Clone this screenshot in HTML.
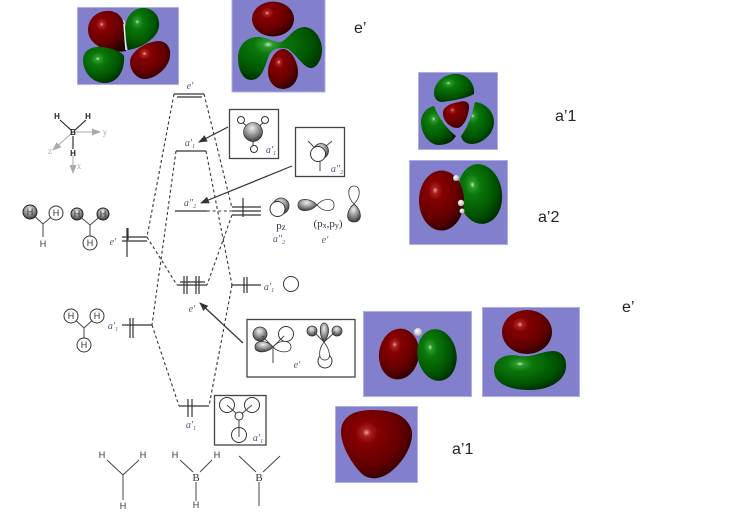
<!DOCTYPE html>
<html><head><meta charset="utf-8"><style>
html,body{margin:0;padding:0;background:#fff;width:750px;height:512px;overflow:hidden}
svg{display:block}
.p{fill:#8280cc;stroke:#aeaee4;stroke-width:1}
.lv{stroke:#333;stroke-width:1.2;fill:none}
.d{stroke:#333;stroke-width:1.1;fill:none;stroke-dasharray:3 2.6}
.b{fill:#fff;stroke:#444;stroke-width:1.3}
.o{fill:#fff;stroke:#333;stroke-width:1}
.ln{stroke:#444;stroke-width:1;fill:none}
.a{stroke:#333;stroke-width:1.2;fill:none}
.l{font:italic 10px "Liberation Serif",serif;fill:#4a5a7c;text-anchor:middle}
.big{font:16px "Liberation Sans",sans-serif;fill:#222}
.h{font:9px "Liberation Sans",sans-serif;fill:#333;text-anchor:middle}
.hb{font:bold 8px "Liberation Sans",sans-serif;fill:#222;text-anchor:middle}
.s{font:11px "Liberation Serif",serif;fill:#334;text-anchor:middle}
.g{font:9px "Liberation Serif",serif;fill:#aaa;text-anchor:middle}
</style></head><body>
<svg width="750" height="512" viewBox="0 0 750 512" xmlns="http://www.w3.org/2000/svg">
<defs>
<radialGradient id="r" cx=".36" cy=".33" r=".8"><stop offset="0" stop-color="#eea0a0"/><stop offset=".07" stop-color="#aa2222"/><stop offset=".2" stop-color="#860000"/><stop offset=".62" stop-color="#620000"/><stop offset="1" stop-color="#1c0000"/></radialGradient>
<radialGradient id="gr" cx=".36" cy=".33" r=".8"><stop offset="0" stop-color="#b8e8b8"/><stop offset=".07" stop-color="#2c9a2c"/><stop offset=".22" stop-color="#0a780a"/><stop offset=".64" stop-color="#005400"/><stop offset="1" stop-color="#001c00"/></radialGradient>
<radialGradient id="w" cx=".4" cy=".35" r=".7"><stop offset="0" stop-color="#fff"/><stop offset="1" stop-color="#aaa"/></radialGradient>
<radialGradient id="sh" cx=".45" cy=".3" r=".8"><stop offset="0" stop-color="#f0f0f0"/><stop offset=".6" stop-color="#777"/><stop offset="1" stop-color="#222"/></radialGradient>
<marker id="ar" markerWidth="9" markerHeight="7" refX="8" refY="3.5" orient="auto" markerUnits="userSpaceOnUse"><path d="M0 0L9 3.5L0 7Z" fill="#333"/></marker>
<marker id="ag" markerWidth="9" markerHeight="7" refX="8" refY="3.5" orient="auto" markerUnits="userSpaceOnUse"><path d="M0 0L9 3.5L0 7Z" fill="#aaa"/></marker>
</defs>

<!-- panels -->
<rect class="p" x="77.5" y="7.5" width="101" height="77"/>
<ellipse cx="123" cy="24" rx="2.5" ry="4" fill="url(#w)"/>
<path d="M88 30C88 18 98 10 110 11C120 12 124 20 125 30L126 51C110 54 88 46 88 30Z" fill="url(#r)"/>
<path d="M125 30C125 15 135 7 145 8C155 9 160 18 159 26C158 38 142 48 128 50C126 42 125 36 125 30Z" fill="url(#gr)"/>
<path d="M83 60C83 50 92 46 102 47C112 48 122 52 124 56C125 70 118 83 105 83C92 83 83 72 83 60Z" fill="url(#gr)"/>
<path d="M130 62C130 52 145 42 158 41C167 41 171 48 170 56C169 68 155 79 145 79C136 79 130 70 130 62Z" fill="url(#r)"/>
<path d="M124 24L126 50" stroke="#eee" stroke-width="1.5"/>

<rect class="p" x="232" y="-1" width="93" height="93"/>
<ellipse cx="273" cy="19" rx="21" ry="17.5" fill="url(#r)"/>
<path d="M238 58C238 44 248 36 260 37C268 38 274 42 280 42C286 42 292 28 304 27C314 27 322 38 322 50C322 60 316 69 310 68C302 66 296 54 288 49C278 46 270 50 268 58C265 66 262 80 251 80C243 80 238 70 238 58Z" fill="url(#gr)"/>
<path d="M283 49C291 49 298 62 298 72C298 82 291 89 283 89C275 89 268 82 268 72C268 62 275 49 283 49Z" fill="url(#r)"/>

<rect class="p" x="418.5" y="72.5" width="79" height="77"/>
<path d="M434 93C434 82 445 73 458 74C468 75 475 84 474 94C465 99 450 101 442 102C437 102 434 98 434 93Z" fill="url(#gr)"/>
<path d="M443 112C444 106 452 103 459 102C465 100 470 102 469 108C468 118 463 128 457 128C450 128 442 120 443 112Z" fill="url(#r)"/>
<path d="M421 122C421 113 428 107 434 106C438 116 444 126 456 136C452 143 445 145 438 145C428 144 421 133 421 122Z" fill="url(#gr)"/>
<path d="M461 136C468 127 472 115 475 102C486 103 494 112 494 122C494 134 482 144 472 144C466 144 462 141 461 136Z" fill="url(#gr)"/>

<rect class="p" x="409.5" y="160.5" width="98" height="84"/>
<ellipse cx="480" cy="194" rx="22" ry="30" fill="url(#gr)" transform="rotate(-8 480 194)"/>
<ellipse cx="441.5" cy="200.5" rx="22.5" ry="30" fill="url(#r)"/>
<circle cx="456" cy="178" r="3" fill="url(#w)"/><circle cx="461" cy="203" r="3.2" fill="url(#w)"/><circle cx="462" cy="211" r="2.5" fill="url(#w)"/>

<rect class="p" x="363.5" y="311.500" width="108" height="85"/>
<ellipse cx="399" cy="354" rx="20" ry="25.500" fill="url(#r)" transform="rotate(8 399 354)"/>
<ellipse cx="437" cy="355" rx="19.500" ry="26" fill="url(#gr)" transform="rotate(-10 437 355)"/>
<circle cx="418" cy="332" r="4" fill="url(#w)"/>

<rect class="p" x="482.500" y="307.500" width="97" height="89"/>
<ellipse cx="527" cy="332" rx="25" ry="22" fill="url(#r)"/>
<path d="M494 370C494 358 506 353 520 356C532 358 542 351 553 351C562 351 567 358 566 368C564 382 548 390 530 390C510 390 494 384 494 370Z" fill="url(#gr)"/>

<rect class="p" x="335.500" y="406.500" width="82" height="76"/>
<path d="M341 432C341 418 352 410 372 410C390 410 404 414 410 426C416 436 408 456 395 468C385 478 372 482 362 474C352 464 341 446 341 432Z" fill="url(#r)"/>

<!-- big labels -->
<text class="big" x="354" y="33">e’</text>
<text class="big" x="555" y="121">a’1</text>
<text class="big" x="538" y="222">a’2</text>
<text class="big" x="622" y="312">e’</text>
<text class="big" x="452" y="454">a’1</text>

<!-- dashed connectors -->
<path class="d" d="M174 94L147 237"/>
<path class="d" d="M147 237L177 285"/>
<path class="d" d="M176 151L152 325"/>
<path class="d" d="M152 325L179 406"/>
<path class="d" d="M204 94L232 208"/>
<path class="d" d="M206 151L232 285"/>
<path class="d" d="M232 215L207 285"/>
<path class="d" d="M232 285L209 406"/>
<path class="d" d="M207 211L232 211"/>

<!-- levels -->
<path class="lv" d="M174 94H204M177 97H202"/>
<path class="lv" d="M176 151H206"/>
<path class="lv" d="M175 211H207"/>
<path class="lv" d="M177 285H207M180 282H205"/>
<path class="lv" d="M184 276V294M187 276V294M196 276V294M199 276V294"/>
<path class="lv" d="M232 207H261M232 211H261M232 215H261"/>
<path class="lv" d="M243 198V217"/>
<path class="lv" d="M232 285H261M244 277V293M247 277V293"/>
<path class="lv" d="M122 237H147M122 241H147M127 228V257M128 228V240"/>
<path class="lv" d="M122 325H152M130 318V338M133 318V338"/>
<path class="lv" d="M179 406H209M188 399V417M192 399V417"/>

<!-- level labels -->
<text class="l" x="190" y="89">e′</text>
<text class="l" x="190" y="146">a′<tspan font-size="6" dy="2">1</tspan></text>
<text class="l" x="190" y="206">a″<tspan font-size="6" dy="2">2</tspan></text>
<text class="l" x="192" y="312">e′</text>
<text class="l" x="191" y="428">a′<tspan font-size="6" dy="2">1</tspan></text>
<text class="l" x="269" y="290">a′<tspan font-size="6" dy="2">1</tspan></text>
<text class="l" x="113" y="329">a′<tspan font-size="6" dy="2">1</tspan></text>
<text class="l" x="113" y="245">e′</text>

<!-- arrows -->
<path class="a" d="M228 127L199 142" marker-end="url(#ar)"/>
<path class="a" d="M292 166L201 203" marker-end="url(#ar)"/>
<path class="a" d="M243 343L200 303" marker-end="url(#ar)"/>

<!-- box A -->
<rect class="b" x="229.500" y="109.500" width="49" height="49"/>
<path class="ln" d="M241 121L253 132L265 121M253 132V149"/>
<circle class="o" cx="241" cy="120" r="3.500"/><circle class="o" cx="265" cy="120" r="3.500"/><circle class="o" cx="254" cy="149" r="3.500"/>
<circle cx="253" cy="132" r="9.500" fill="url(#sh)" stroke="#222" stroke-width=".6"/>
<text class="l" x="271" y="153">a′<tspan font-size="6" dy="2">1</tspan></text>

<!-- box B -->
<rect class="b" x="295.500" y="127.500" width="49" height="49"/>
<path class="ln" d="M308 141L319 152L332 141M320 160V171"/>
<circle cx="321" cy="151" r="7.500" fill="url(#sh)" stroke="#333" stroke-width=".8"/>
<circle class="o" cx="318" cy="154" r="7.500"/>
<text class="l" x="337" y="172">a″<tspan font-size="6" dy="2">2</tspan></text>

<!-- box C -->
<rect class="b" x="247" y="319.500" width="108" height="57.500"/>
<circle cx="260" cy="334" r="7" fill="url(#sh)" stroke="#333" stroke-width=".8"/>
<circle class="o" cx="286" cy="334" r="7.500"/>
<path d="M273 347C268 340 255 339 255 347C255 354 268 353 273 347Z" fill="url(#sh)" stroke="#333" stroke-width=".8"/>
<path d="M273 347C278 340 291 339 291 347C291 354 278 353 273 347Z" fill="#fff" stroke="#333" stroke-width=".8"/>
<path class="ln" d="M273 347V363M273 347L262 336M273 347L284 336"/>
<text class="l" x="297" y="368">e′</text>
<circle cx="312" cy="331" r="5" fill="url(#sh)" stroke="#333" stroke-width=".8"/>
<circle cx="337" cy="331" r="5" fill="url(#sh)" stroke="#333" stroke-width=".8"/>
<circle class="o" cx="325" cy="361" r="7"/>
<path d="M324 342C319 335 319 324 324 323C330 324 330 335 324 342Z" fill="url(#sh)" stroke="#333" stroke-width=".8"/>
<path d="M324 342C318 350 318 360 325 360C332 360 330 350 324 342Z" fill="#fff" stroke="#333" stroke-width=".8"/>
<path class="ln" d="M314 332L324 342L335 332"/>

<!-- box D -->
<rect class="b" x="214.500" y="395.500" width="51.500" height="49.500"/>
<circle class="o" cx="227" cy="405" r="7.500"/><circle class="o" cx="252" cy="405" r="7.500"/><circle class="o" cx="239" cy="435" r="7.500"/>
<path class="ln" d="M227 405L239 416L252 405M239 416V437"/>
<circle class="o" cx="239" cy="416" r="4"/>
<text class="l" x="258" y="441">a′<tspan font-size="6" dy="2">1</tspan></text>

<!-- p orbitals -->
<circle cx="281" cy="206" r="8" fill="url(#sh)" stroke="#333" stroke-width=".8"/>
<circle class="o" cx="277.500" cy="209" r="7.500"/>
<text class="s" x="281" y="229" font-size="12">p<tspan font-size="9" dy="1">z</tspan></text>
<text class="l" x="279" y="242">a″<tspan font-size="6" dy="2">2</tspan></text>
<path d="M317 205C311 198 298 197 298 205C298 213 311 212 317 205Z" fill="url(#sh)" stroke="#333" stroke-width=".8"/>
<path d="M317 205C323 198 334 197 334 205C334 213 323 212 317 205Z" fill="#fff" stroke="#333" stroke-width=".8"/>
<path d="M354 204C347 197 347 186 354 186C361 186 361 197 354 204Z" fill="#fff" stroke="#333" stroke-width=".8"/>
<path d="M354 204C346 210 345 222 354 222C363 222 362 210 354 204Z" fill="url(#sh)" stroke="#333" stroke-width=".8"/>
<text class="s" x="328" y="227">(p<tspan font-size="8" dy="1">x</tspan><tspan dy="-1">,p</tspan><tspan font-size="8" dy="1">y</tspan><tspan dy="-1">)</tspan></text>
<text class="l" x="325" y="243">e′</text>
<circle class="o" cx="291" cy="284" r="7.500"/>

<!-- axes -->
<path d="M73 132H100" stroke="#aaa" stroke-width="1" marker-end="url(#ag)"/>
<path d="M73 132L53 150" stroke="#aaa" stroke-width="1" marker-end="url(#ag)"/>
<path d="M73 155V173" stroke="#aaa" stroke-width="1" marker-end="url(#ag)"/>
<path d="M60 120L71 130M86 120L75 130M73 136V149" stroke="#222" stroke-width="1.100"/>
<text class="hb" x="57" y="119">H</text><text class="hb" x="88" y="119">H</text><text class="hb" x="73" y="135" fill="#a60">B</text><text class="hb" x="73" y="156">H</text>
<text class="g" x="105" y="135">y</text><text class="g" x="50" y="154">z</text><text class="g" x="79" y="169">x</text>

<!-- H groups -->
<path class="ln" d="M30 212L43 224L56 213M43 224V237"/>
<circle cx="30" cy="212" r="7" fill="url(#sh)" stroke="#222"/><text class="h" x="30" y="215">H</text>
<circle class="o" cx="56" cy="213" r="7"/><text class="h" x="56" y="216">H</text>
<text class="h" x="43" y="247">H</text>
<path class="ln" d="M77 214L90 225L103 214M90 225V236"/>
<circle cx="77" cy="214" r="6" fill="url(#sh)" stroke="#222"/><text class="h" x="77" y="217">H</text>
<circle cx="103" cy="214" r="6" fill="url(#sh)" stroke="#222"/><text class="h" x="103" y="217">H</text>
<circle class="o" cx="90" cy="243" r="7"/><text class="h" x="90" y="246">H</text>
<path class="ln" d="M71 316L84 328L97 316M84 328V338"/>
<circle class="o" cx="71" cy="316" r="7"/><text class="h" x="71" y="319">H</text>
<circle class="o" cx="97" cy="316" r="7"/><text class="h" x="97" y="319">H</text>
<circle class="o" cx="84" cy="345" r="7"/><text class="h" x="84" y="348">H</text>

<!-- bottom structures -->
<path class="ln" d="M107 460L123 475L139 460M123 475V500"/>
<text class="h" x="102" y="458">H</text><text class="h" x="143" y="458">H</text><text class="h" x="123" y="509">H</text>
<path class="ln" d="M180 460L193 472M212 460L200 472M196 482V501"/>
<text class="h" x="175" y="458">H</text><text class="h" x="217" y="458">H</text><text class="h" x="196" y="508">H</text>
<text class="s" x="196" y="481">B</text>
<path class="ln" d="M239 456L256 472M280 456L263 472M259 482V506"/>
<text class="s" x="259" y="481">B</text>
</svg>
</body></html>
